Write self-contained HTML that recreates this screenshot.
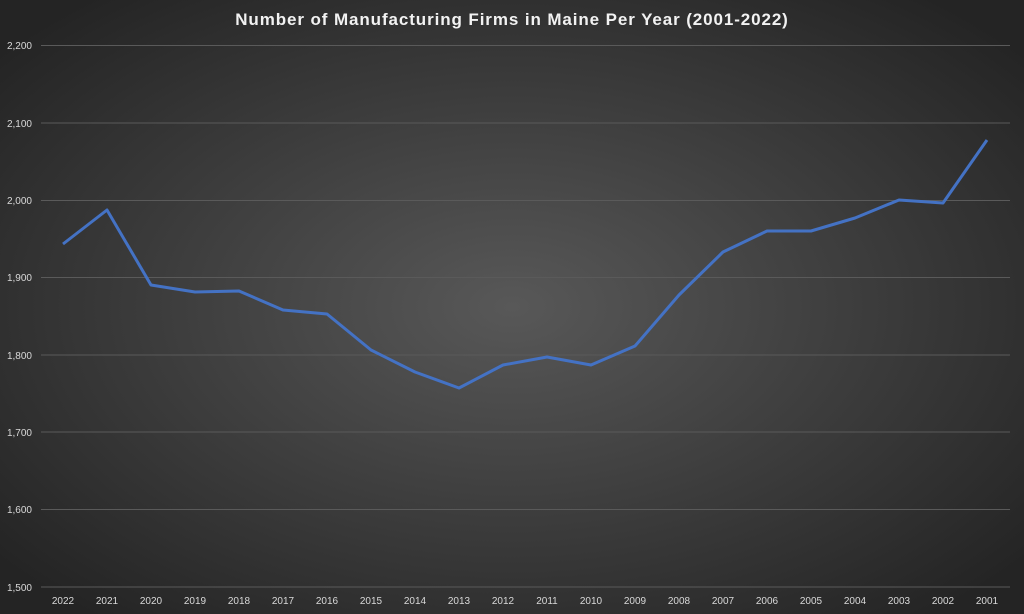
<!DOCTYPE html>
<html><head><meta charset="utf-8"><style>
html,body{margin:0;padding:0;width:1024px;height:614px;overflow:hidden;background:#333}
</style></head><body>
<svg width="1024" height="614" xmlns="http://www.w3.org/2000/svg" font-family="Liberation Sans, sans-serif">
<defs><radialGradient id="g" cx="50%" cy="50%" r="65%">
<stop offset="0" stop-color="#585858"/><stop offset="1" stop-color="#242424"/></radialGradient></defs>
<rect width="1024" height="614" fill="url(#g)"/>
<text x="512" y="25" text-anchor="middle" fill="#f2f2f2" font-size="17" font-weight="bold" letter-spacing="0.9">Number of Manufacturing Firms in Maine Per Year (2001-2022)</text>
<g stroke="#5a5a5a" stroke-width="1">
<line x1="41" x2="1010" y1="45.5" y2="45.5"/><line x1="41" x2="1010" y1="123" y2="123"/><line x1="41" x2="1010" y1="200.5" y2="200.5"/><line x1="41" x2="1010" y1="277.5" y2="277.5"/><line x1="41" x2="1010" y1="355" y2="355"/><line x1="41" x2="1010" y1="432" y2="432"/><line x1="41" x2="1010" y1="509.5" y2="509.5"/><line x1="41" x2="1010" y1="587" y2="587"/>
</g>
<g fill="#d9d9d9" font-size="10" text-anchor="end">
<text x="32" y="49">2,200</text><text x="32" y="127">2,100</text><text x="32" y="204">2,000</text><text x="32" y="281">1,900</text><text x="32" y="359">1,800</text><text x="32" y="436">1,700</text><text x="32" y="513">1,600</text><text x="32" y="591">1,500</text>
</g>
<g fill="#d9d9d9" font-size="10" text-anchor="middle">
<text x="63" y="604">2022</text><text x="107" y="604">2021</text><text x="151" y="604">2020</text><text x="195" y="604">2019</text><text x="239" y="604">2018</text><text x="283" y="604">2017</text><text x="327" y="604">2016</text><text x="371" y="604">2015</text><text x="415" y="604">2014</text><text x="459" y="604">2013</text><text x="503" y="604">2012</text><text x="547" y="604">2011</text><text x="591" y="604">2010</text><text x="635" y="604">2009</text><text x="679" y="604">2008</text><text x="723" y="604">2007</text><text x="767" y="604">2006</text><text x="811" y="604">2005</text><text x="855" y="604">2004</text><text x="899" y="604">2003</text><text x="943" y="604">2002</text><text x="987" y="604">2001</text>
</g>
<polyline fill="none" stroke="#4472c4" stroke-width="3" stroke-linejoin="round" points="63,244 107,210 151,285 195,292 239,291 283,310 327,314 371,350 415,372 459,388 503,365 547,357 591,365 635,346 679,295 723,252 767,231 811,231 855,218 899,200 943,203 987,140"/>
</svg>
</body></html>
